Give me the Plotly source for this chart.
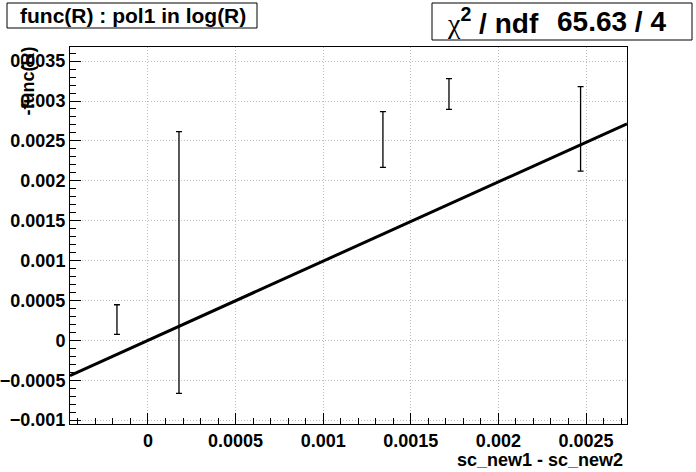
import plotly.graph_objects as go

# Data points (x, y, symmetric y error)
x_vals = [-0.000177, 0.000177, 0.001341, 0.001718, 0.002469]
y_vals = [0.00026, 0.000975, 0.002517, 0.003088, 0.00265]
y_errs = [0.000186, 0.00164, 0.000349, 0.000192, 0.00053]

# Fit: pol1
fit_p0 = 0.0
fit_p1 = 0.993
x_range = [-0.000445, 0.002734]
y_range = [-0.001049, 0.003677]

fit_x = [x_range[0] + i * (x_range[1] - x_range[0]) / 200 for i in range(201)]
fit_y = [fit_p0 + fit_p1 * xx for xx in fit_x]

FONT = "Liberation Sans, Arial, sans-serif"

fig = go.Figure()
fig.add_trace(go.Scatter(
    x=x_vals, y=y_vals, mode="markers",
    marker=dict(size=0.1, color="black"),
    error_y=dict(type="data", array=y_errs, visible=True, color="black",
                 thickness=1.3, width=3),
    showlegend=False, hoverinfo="skip"))
fig.add_trace(go.Scatter(
    x=fit_x, y=fit_y, mode="lines",
    line=dict(color="black", width=3),
    showlegend=False, hoverinfo="skip"))

axis_common = dict(
    showline=True, linecolor="black", linewidth=1, mirror=True,
    ticks="inside", ticklen=11, tickcolor="black", tickwidth=1,
    showgrid=True, gridcolor="#bdbdbd", griddash="1px,2px", gridwidth=1,
    zeroline=False, automargin=False,
    tickfont=dict(family=FONT, size=18, color="black", weight="bold"),
    minor=dict(dtick=0.0001, ticks="inside", ticklen=6, tickcolor="black",
               showgrid=False),
)

fig.update_xaxes(range=x_range, dtick=0.0005, tick0=0, tickformat="~g", **axis_common)
fig.update_yaxes(range=y_range, dtick=0.0005, tick0=0, tickformat="~g", **axis_common)

W, H = 696, 472
L, R, T, B = 70, 69, 47, 48
pw, ph = W - L - R, H - T - B


def px(xp):
    return (xp - L) / pw


def py(yp):
    return (H - B - yp) / ph


# Title box
fig.add_shape(type="rect", xref="paper", yref="paper",
              x0=px(7), x1=px(257), y0=py(28), y1=py(3),
              line=dict(color="black", width=1), fillcolor="white")
fig.add_annotation(xref="paper", yref="paper", x=px(133), y=py(15.5),
                   text="func(R) : pol1 in log(R)", showarrow=False,
                   xanchor="center", yanchor="middle",
                   font=dict(family=FONT, size=21, color="black", weight="bold"))

# Stats box
fig.add_shape(type="rect", xref="paper", yref="paper",
              x0=px(432), x1=px(692), y0=py(40), y1=py(3),
              line=dict(color="black", width=1), fillcolor="white")
fig.add_annotation(xref="paper", yref="paper", x=px(445), y=py(21.5),
                   text="<span style='font-family:Liberation Serif;font-weight:normal'>χ</span><sup>2</sup> / ndf",
                   showarrow=False, xanchor="left", yanchor="middle",
                   font=dict(family=FONT, size=28, color="black", weight="bold"))
fig.add_annotation(xref="paper", yref="paper", x=px(668), y=py(21.5),
                   text="65.63 / 4", showarrow=False,
                   xanchor="right", yanchor="middle",
                   font=dict(family=FONT, size=28, color="black", weight="bold"))

# Axis titles
fig.add_annotation(xref="paper", yref="paper", x=px(27), y=py(81.5),
                   text="-func(R)", textangle=-90, showarrow=False,
                   xanchor="center", yanchor="middle",
                   font=dict(family=FONT, size=18, color="black", weight="bold"))
fig.add_annotation(xref="paper", yref="paper", x=px(625), y=py(460),
                   text="sc_new1 - sc_new2", showarrow=False,
                   xanchor="right", yanchor="middle",
                   font=dict(family=FONT, size=18, color="black", weight="bold"))

fig.update_layout(
    width=W, height=H,
    margin=dict(l=L, r=R, t=T, b=B, autoexpand=False),
    paper_bgcolor="white", plot_bgcolor="white",
    showlegend=False,
)

fig.write_html("out.html", config={"displayModeBar": False},
               post_script="document.body.style.margin='0';document.body.style.overflow='hidden';")
